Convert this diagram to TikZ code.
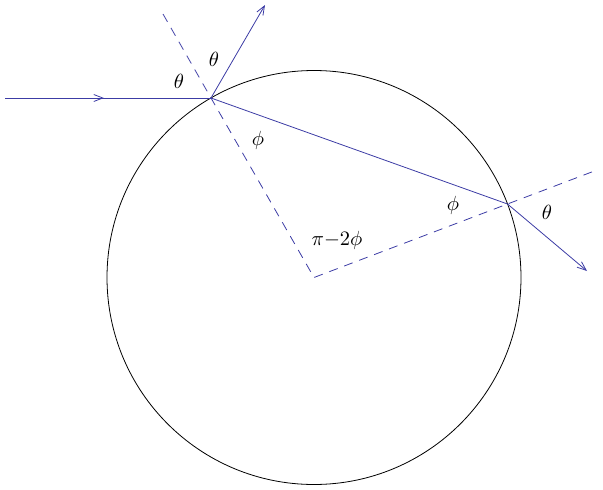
\documentclass[tikz,border=0pt]{standalone}
\usetikzlibrary{arrows.meta,decorations.markings}
\definecolor{ray}{RGB}{60,60,165}
\begin{document}
\begin{tikzpicture}[x=1pt,y=-1pt,
  raystyle/.style={draw=ray,line width=0.8pt},
  normal/.style={draw=ray,line width=0.8pt,dash pattern=on 9pt off 7pt},
  tip/.style={-{Straight Barb[length=9pt,width=7pt,line width=0.8pt]}},
  lbl/.style={scale=2.05,inner sep=0pt}]
\useasboundingbox (0,0) rectangle (603,490);
\coordinate (O) at (314,277.5);
\coordinate (P1) at (211,98);
\coordinate (P2) at (507.5,204);
\coordinate (S) at (5,98);
\coordinate (R) at (265,5);
\coordinate (E) at (587,271);
\coordinate (N1) at (163,14);
\coordinate (N2) at (597,170);
\draw[line width=0.8pt] (O) circle (207);
\draw[normal] (N1) -- (P1) -- (O) -- (P2) -- (N2);
\draw[raystyle,postaction={decorate},decoration={markings,mark=at position 0.48 with {\arrow{Straight Barb[length=9pt,width=7pt,line width=0.8pt]}}}] (S) -- (P1);
\draw[raystyle,tip] (P1) -- (R);
\draw[raystyle] (P1) -- (P2);
\draw[raystyle,tip] (P2) -- (E);
\node[lbl] (t1) at (179,81) {$\theta$};
\node[lbl] (t2) at (214,59) {$\theta$};
\node[lbl] (f1) at (258,140) {$\phi$};
\node[lbl] (f2) at (453,205) {$\phi$};
\node[lbl] (t3) at (547,212) {$\theta$};
\node[lbl] (pf) at (337,240) {$\pi{-}2\phi$};
\end{tikzpicture}
\end{document}
